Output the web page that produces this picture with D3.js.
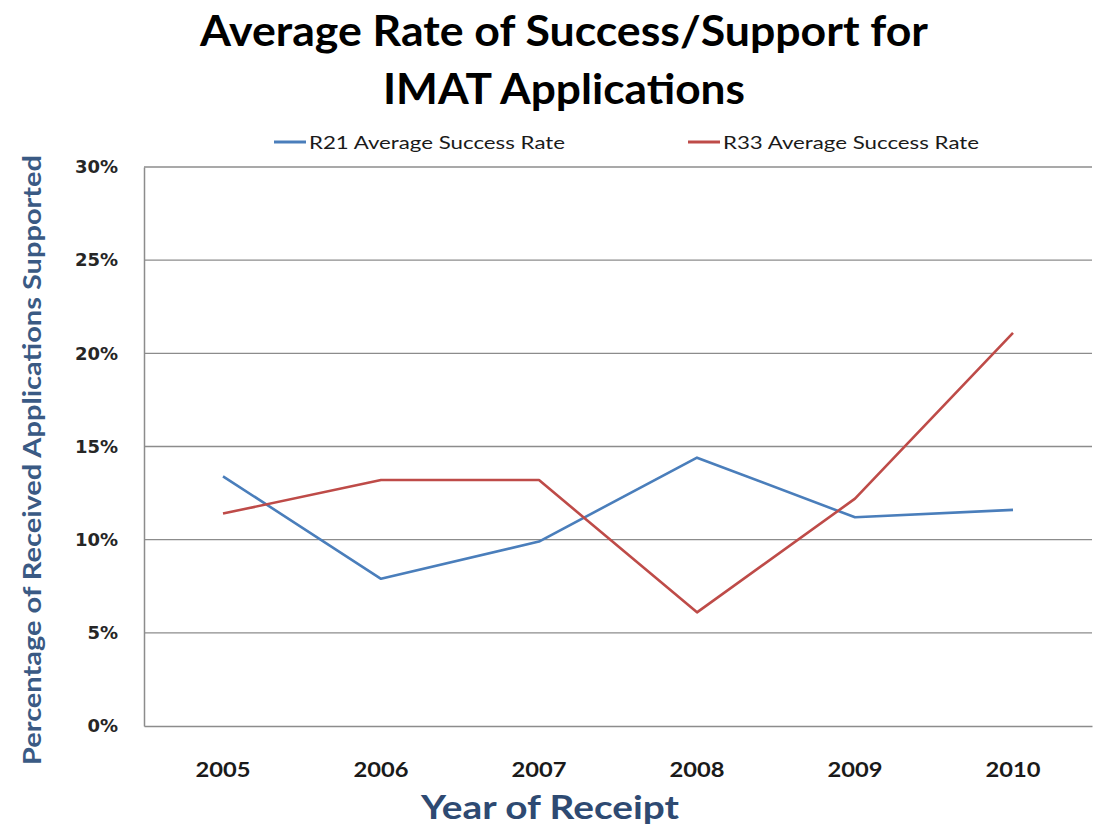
<!DOCTYPE html>
<html>
<head>
<meta charset="utf-8">
<script src="https://cdn.jsdelivr.net/npm/d3@7"></script>
<style>
html,body{margin:0;padding:0;background:#fff;}
svg{display:block;}
</style>
</head>
<body>
<svg id="chart" width="1095" height="829"></svg>
<script>
const years = ["2005","2006","2007","2008","2009","2010"];
const r21 = [13.4, 7.9, 9.9, 14.4, 11.2, 11.6];
const r33 = [11.4, 13.2, 13.2, 6.1, 12.2, 21.1];
const yTicks = [0, 5, 10, 15, 20, 25, 30];
const seriesNames = ["R21 Average Success Rate", "R33 Average Success Rate"];
const seriesColors = ["#4a7ebb", "#be4b48"];
const titleLines = ["Average Rate of Success/Support for", "IMAT Applications"];

const svg = d3.select("#chart");
const W = 1095, H = 829;
const m = {left: 144, right: 3, top: 167, bottom: 103};
const x = d3.scaleBand().domain(years).range([m.left, W - m.right]);
const y = d3.scaleLinear().domain([0, 30]).range([H - m.bottom, m.top]);

const font = "Lato, 'Open Sans', sans-serif";

// gridlines
svg.append("g")
  .selectAll("line").data(yTicks.filter(d => d > 0)).join("line")
  .attr("x1", m.left).attr("x2", W - m.right)
  .attr("y1", d => y(d)).attr("y2", d => y(d))
  .attr("stroke", "#8c8c8c").attr("stroke-width", 1.3);

// y axis
const yAxis = svg.append("g").attr("transform", `translate(${m.left},0)`)
  .call(d3.axisLeft(y).tickValues(yTicks).tickFormat(d => d + "%").tickSize(0).tickPadding(26));
yAxis.select(".domain").attr("stroke", "#8c8c8c").attr("stroke-width", 1.5);
yAxis.selectAll("text").attr("font-family", "'DejaVu Sans', Verdana, sans-serif")
  .attr("font-weight", "bold").attr("font-size", 18).attr("fill", "#262626");

// x axis
const xAxis = svg.append("g").attr("transform", `translate(0,${y(0)})`)
  .call(d3.axisBottom(x).tickSize(0).tickPadding(36));
xAxis.select(".domain").attr("stroke", "#8c8c8c").attr("stroke-width", 1.5);
xAxis.selectAll("text").attr("font-family", font)
  .attr("font-weight", "bold").attr("font-size", 21).attr("fill", "#1a1a1a")
  .attr("textLength", 55).attr("lengthAdjust", "spacingAndGlyphs");

// lines
const line = d3.line().x((d, i) => x(years[i]) + x.bandwidth() / 2).y(d => y(d));
[r21, r33].forEach((s, k) => {
  svg.append("path").datum(s).attr("d", line)
    .attr("fill", "none").attr("stroke", seriesColors[k]).attr("stroke-width", 2.6)
    .attr("stroke-linejoin", "round");
});

// title
const titleWidths = [728, 362];
svg.append("g").selectAll("text").data(titleLines).join("text")
  .attr("x", 564).attr("y", (d, i) => 46 + i * 58)
  .attr("text-anchor", "middle").attr("font-family", font)
  .attr("font-weight", "bold").attr("font-size", 42).attr("fill", "#000")
  .attr("textLength", (d, i) => titleWidths[i]).attr("lengthAdjust", "spacingAndGlyphs")
  .text(d => d);

// legend
const legendX = [274, 688];
const lg = svg.append("g");
seriesNames.forEach((n, k) => {
  lg.append("line").attr("x1", legendX[k]).attr("x2", legendX[k] + 32)
    .attr("y1", 142).attr("y2", 142)
    .attr("stroke", seriesColors[k]).attr("stroke-width", 3);
  lg.append("text").attr("x", legendX[k] + 35).attr("y", 149)
    .attr("font-family", font).attr("font-size", 18).attr("fill", "#1a1a1a")
    .attr("textLength", 256).attr("lengthAdjust", "spacingAndGlyphs")
    .text(n);
});

// axis titles
svg.append("text")
  .attr("transform", `translate(41,${460}) rotate(-90)`)
  .attr("text-anchor", "middle").attr("font-family", font)
  .attr("font-weight", "bold").attr("font-size", 25).attr("fill", "#3a5a84")
  .attr("textLength", 610).attr("lengthAdjust", "spacingAndGlyphs")
  .text("Percentage of Received Applications Supported");

svg.append("text")
  .attr("x", 550).attr("y", 819)
  .attr("text-anchor", "middle").attr("font-family", font)
  .attr("font-weight", "bold").attr("font-size", 33).attr("fill", "#2e4a72")
  .attr("textLength", 258).attr("lengthAdjust", "spacingAndGlyphs")
  .text("Year of Receipt");
</script>
</body>
</html>
